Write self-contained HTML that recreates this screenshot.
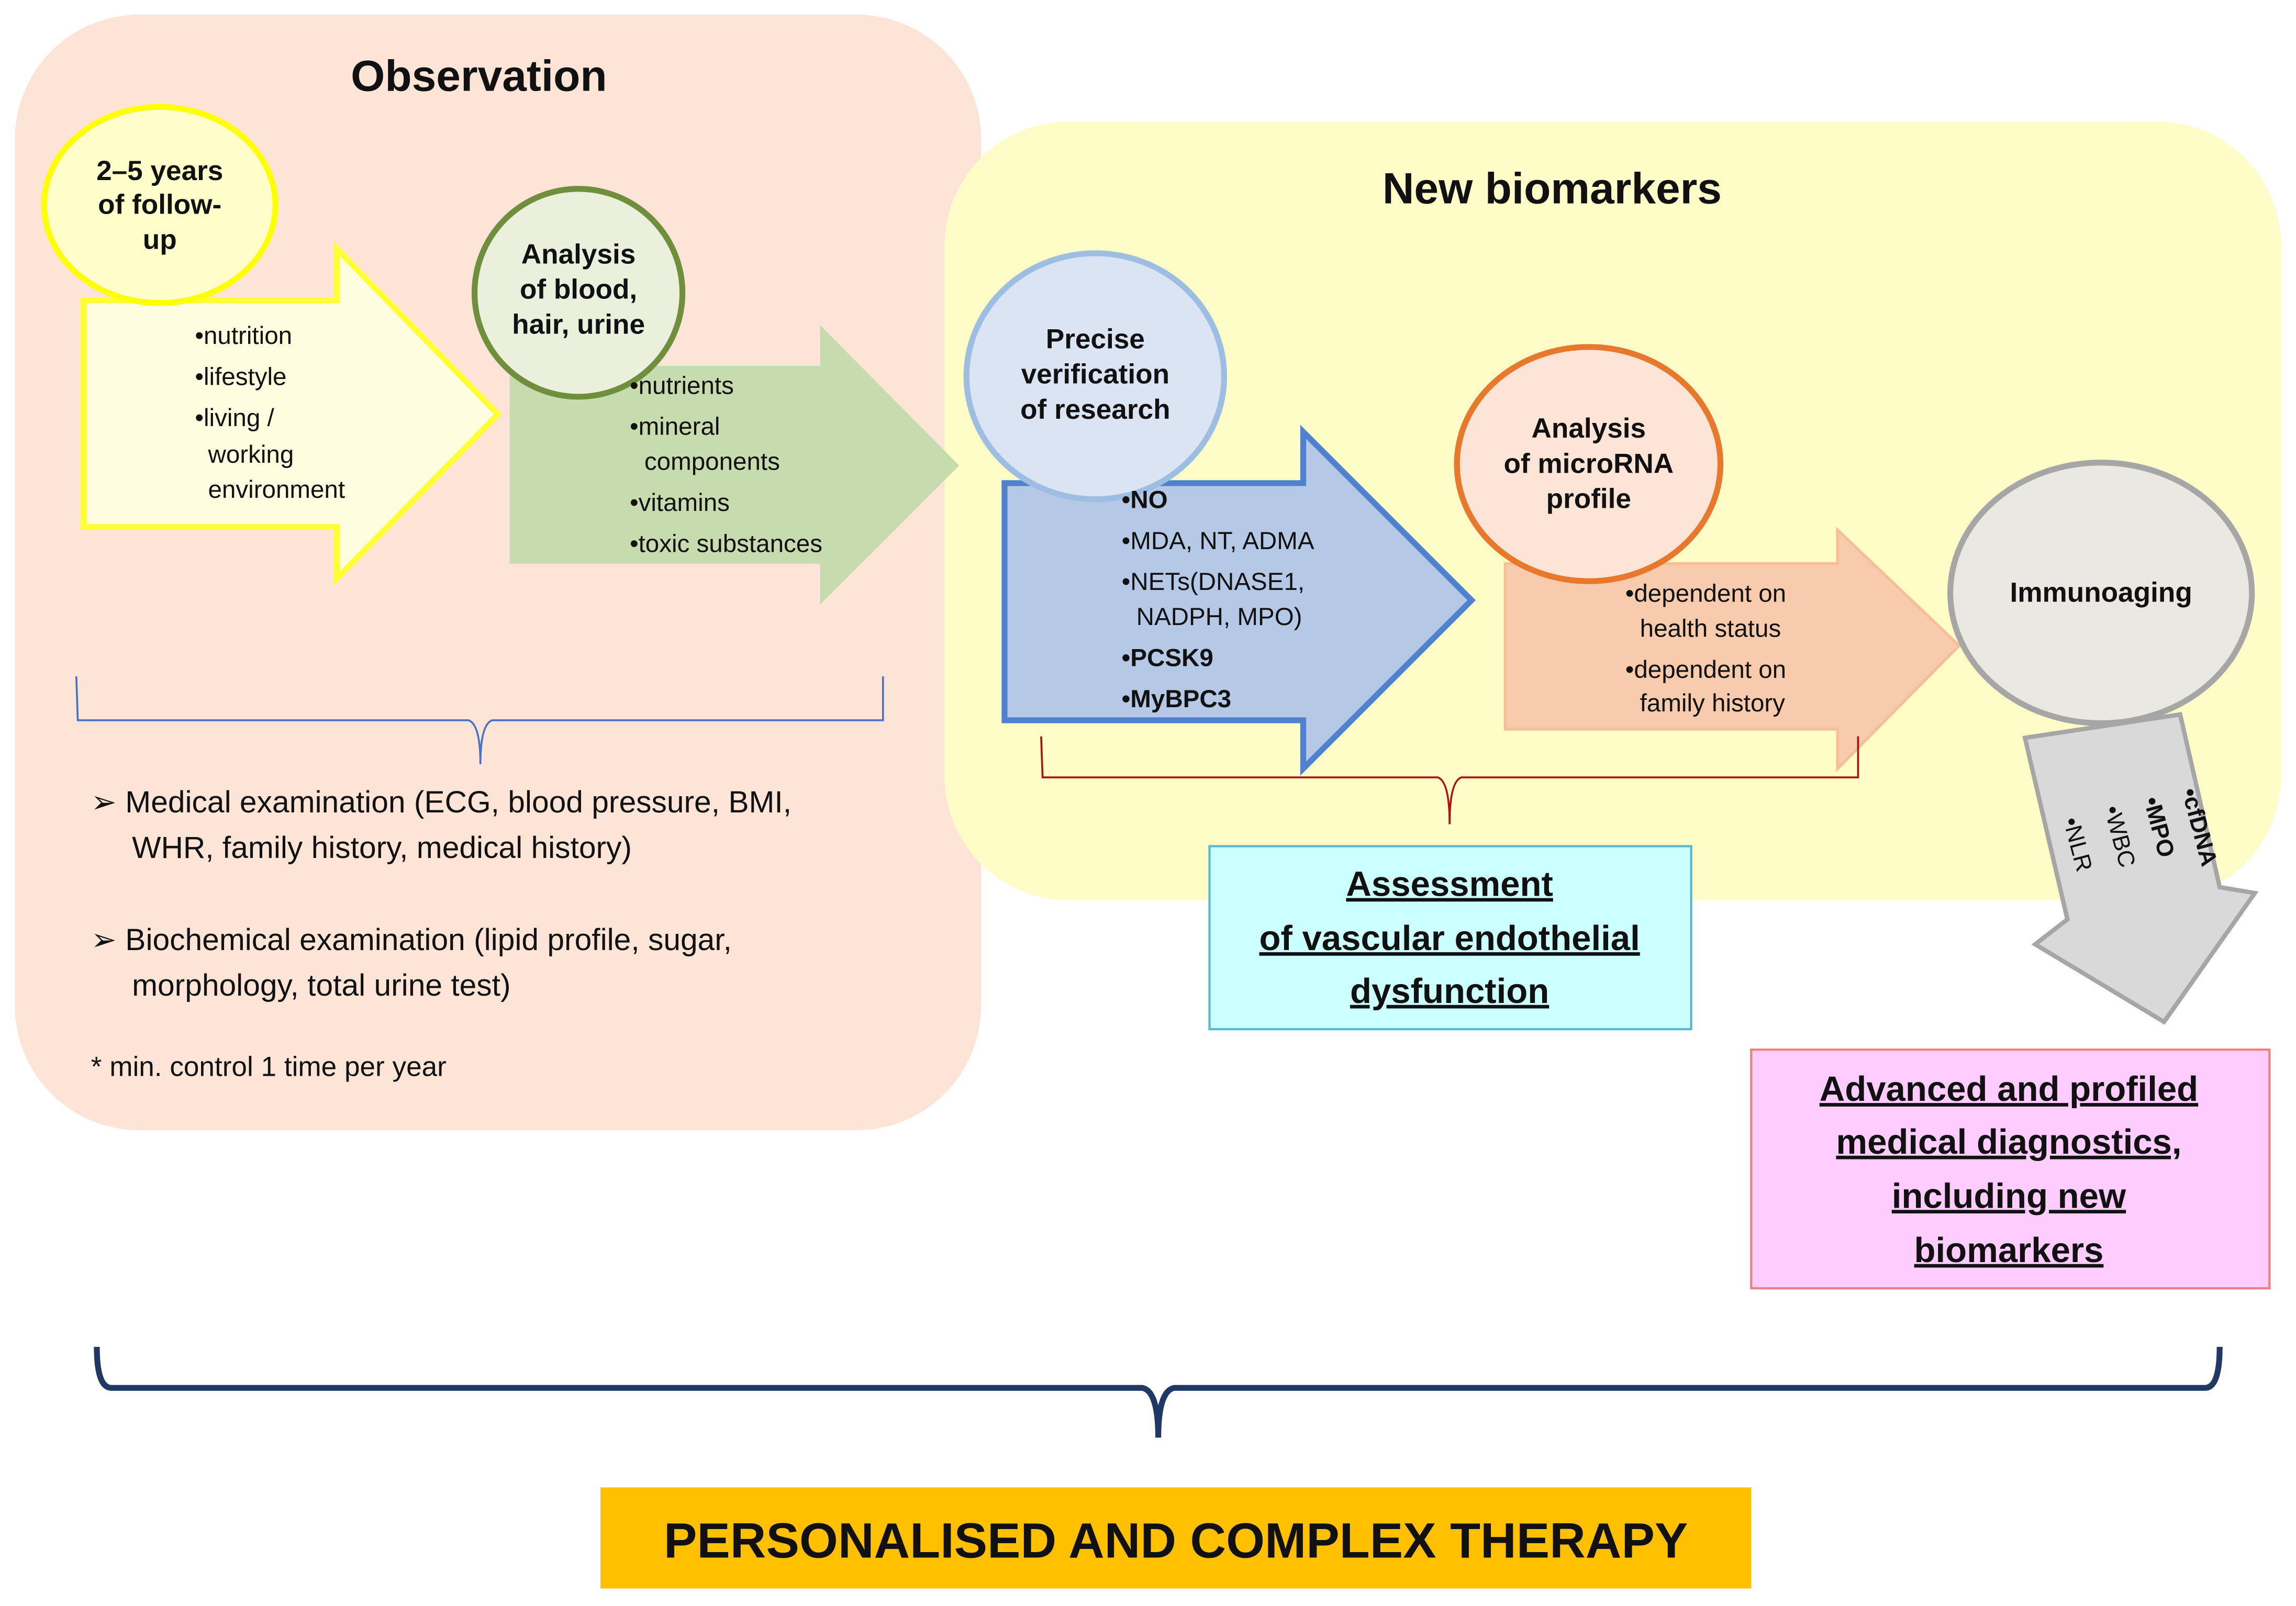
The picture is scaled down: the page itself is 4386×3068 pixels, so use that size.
<!DOCTYPE html>
<html><head><meta charset="utf-8"><style>
html,body{margin:0;padding:0;background:#fff;}
svg{display:block;}
text{font-family:"Liberation Sans",sans-serif;fill:#111;}
.b{font-weight:bold;}
.u{text-decoration:underline;}
</style></head><body>
<svg width="4386" height="3068" viewBox="0 0 1568 1097" xmlns="http://www.w3.org/2000/svg">
<rect x="0" y="0" width="1568" height="1097" fill="#fff"/>
<rect x="10" y="10" width="660" height="762" rx="85" fill="#fce5d7"/>
<rect x="645" y="83" width="913" height="532" rx="85" fill="#fefdc8"/>
<text x="327" y="62" class="b" font-size="30" text-anchor="middle">Observation</text>
<text x="1060" y="139" class="b" font-size="30" text-anchor="middle">New biomarkers</text>

<polygon points="57,205 230,205 230,170 340,283 230,395 230,360 57,360" fill="#fffde0" stroke="#ffff33" stroke-width="4"/>
<ellipse cx="109" cy="140" rx="79" ry="67" fill="#ffffcc" stroke="#ffff00" stroke-width="4"/>
<g font-size="19" font-weight="bold" text-anchor="middle">
<text x="109" y="123">2–5 years</text>
<text x="109" y="146">of follow-</text>
<text x="109" y="170">up</text>
</g>
<g font-size="17">
<text x="133" y="235">•nutrition</text>
<text x="133" y="263">•lifestyle</text>
<text x="133" y="291">•living /</text>
<text x="142" y="316">working</text>
<text x="142" y="340">environment</text>
</g>

<polygon points="348,250 560,250 560,222 655,318 560,413 560,385 348,385" fill="#c6dbae"/>
<circle cx="395" cy="200" r="71" fill="#eaf0dc" stroke="#6f8f3c" stroke-width="4"/>
<g font-size="19" font-weight="bold" text-anchor="middle">
<text x="395" y="180">Analysis</text>
<text x="395" y="204">of blood,</text>
<text x="395" y="228">hair, urine</text>
</g>
<g font-size="17">
<text x="430" y="269">•nutrients</text>
<text x="430" y="297">•mineral</text>
<text x="440" y="321">components</text>
<text x="430" y="349">•vitamins</text>
<text x="430" y="377">•toxic substances</text>
</g>

<path d="M52,462 L53,492 L320,492 Q328,495 328,522 Q328,495 336,492 L603,492 L603,462" fill="none" stroke="#4472c4" stroke-width="1.3"/>
<g font-size="21">
<text x="62" y="555">➢ Medical examination (ECG, blood pressure, BMI,</text>
<text x="90" y="586">WHR, family history, medical history)</text>
<text x="62" y="649">➢ Biochemical examination (lipid profile, sugar,</text>
<text x="90" y="680">morphology, total urine test)</text>
<text x="62" y="735" font-size="19">* min. control 1 time per year</text>
</g>

<polygon points="686,330 890,330 890,295 1005,410 890,525 890,492 686,492" fill="#b5c8e6" stroke="#4f81cf" stroke-width="4"/>
<ellipse cx="748" cy="257" rx="88" ry="84" fill="#dbe4f3" stroke="#9dbde3" stroke-width="4"/>
<g font-size="19" font-weight="bold" text-anchor="middle">
<text x="748" y="238">Precise</text>
<text x="748" y="262">verification</text>
<text x="748" y="286">of research</text>
</g>
<g font-size="17">
<text x="766" y="347" class="b">•NO</text>
<text x="766" y="375">•MDA, NT, ADMA</text>
<text x="766" y="403">•NETs(DNASE1,</text>
<text x="776" y="427">NADPH, MPO)</text>
<text x="766" y="455" class="b">•PCSK9</text>
<text x="766" y="483" class="b">•MyBPC3</text>
</g>

<polygon points="1028,385 1255,385 1255,362 1338,441 1255,525 1255,498 1028,498" fill="#f8cbac" stroke="#f6bf98" stroke-width="2"/>
<ellipse cx="1085" cy="317" rx="90" ry="80" fill="#fce4d6" stroke="#e8782c" stroke-width="4"/>
<g font-size="19" font-weight="bold" text-anchor="middle">
<text x="1085" y="299">Analysis</text>
<text x="1085" y="323">of microRNA</text>
<text x="1085" y="347">profile</text>
</g>
<g font-size="17">
<text x="1110" y="411">•dependent on</text>
<text x="1120" y="435">health status</text>
<text x="1110" y="463">•dependent on</text>
<text x="1120" y="486">family history</text>
</g>

<polygon points="1383,504 1489,488 1516,606 1540,610 1478,698 1390,645 1412,628" fill="#d9d9d9" stroke="#a6a6a6" stroke-width="3"/>
<ellipse cx="1435" cy="405" rx="103" ry="89" fill="#e9e8e3" stroke="#a6a6a6" stroke-width="4"/>
<text x="1435" y="411" font-size="19" font-weight="bold" text-anchor="middle">Immunoaging</text>
<g font-size="16">
<text transform="translate(1490,540) rotate(75)" class="b">•cfDNA</text>
<text transform="translate(1464,546) rotate(75)" class="b">•MPO</text>
<text transform="translate(1437,552) rotate(75)">•WBC</text>
<text transform="translate(1409,560) rotate(75)">•NLR</text>
</g>

<path d="M711,503 L712,531 L982,531 Q990,534 990,563 Q990,534 998,531 L1269,531 L1269,503" fill="none" stroke="#b01010" stroke-width="1.3"/>

<rect x="826" y="578" width="329" height="125" fill="#ccffff" stroke="#5bb7cf" stroke-width="1.5"/>
<g font-size="24" text-anchor="middle">
<text x="990" y="612" class="b u">Assessment</text>
<text x="990" y="649" class="b u">of vascular endothelial</text>
<text x="990" y="685" class="b u">dysfunction</text>
</g>

<rect x="1196" y="717" width="354" height="163" fill="#ffccff" stroke="#ee7f7f" stroke-width="1.5"/>
<g font-size="24" text-anchor="middle">
<text x="1372" y="752" class="b u">Advanced and profiled</text>
<text x="1372" y="788" class="b u">medical diagnostics,</text>
<text x="1372" y="825" class="b u">including new</text>
<text x="1372" y="862" class="b u">biomarkers</text>
</g>

<path d="M66,920 Q66,948 76,948 L780,948 Q791,950 791,982 Q791,950 802,948 L1506,948 Q1516,948 1516,920" fill="none" stroke="#1f3864" stroke-width="4"/>

<rect x="410" y="1016" width="786" height="69" fill="#ffc000"/>
<text x="803" y="1064" font-size="34" class="b" text-anchor="middle">PERSONALISED AND COMPLEX THERAPY</text>
</svg>
</body></html>
